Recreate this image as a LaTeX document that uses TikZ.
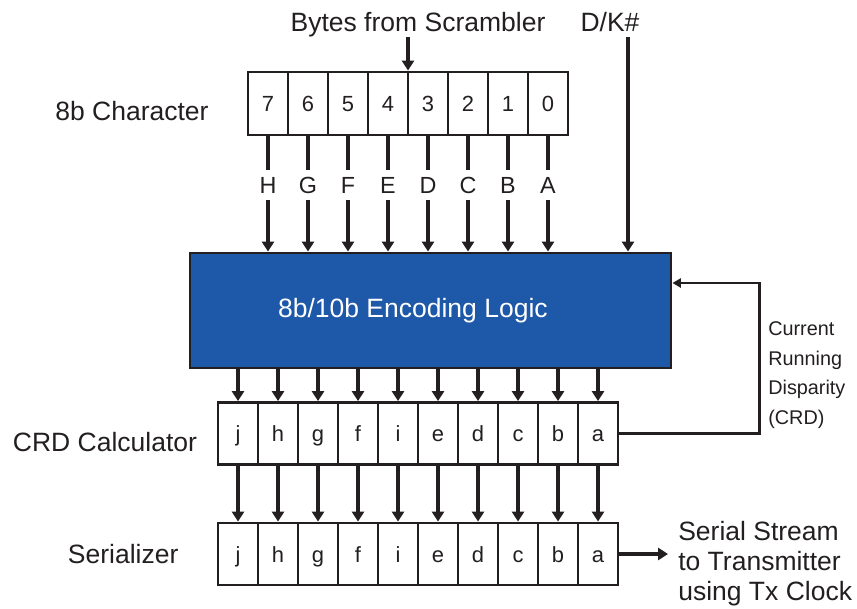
\documentclass[tikz,border=0pt]{standalone}
\usepackage{fontspec}
\setmainfont{Liberation Sans}
\usepackage{tikz}
\usetikzlibrary{positioning,arrows.meta,calc}
\definecolor{ink}{RGB}{35,31,32}
\definecolor{encblue}{RGB}{30,88,168}
\tikzset{cell/.style={draw=ink,line width=2.1pt,minimum width=1cm,minimum height=1.55cm,inner sep=0pt,text=ink,text height=12pt,text depth=0pt,font=\fontsize{15.6}{18}\selectfont}}
\tikzset{bus/.style={ink,line width=2.8pt,-{Triangle[length=7pt,width=8.5pt]}}}
\tikzset{lbl/.style={text=ink,font=\fontsize{18.85}{21.3}\selectfont}}

\begin{document}
\begin{tikzpicture}[wire/.style={ink,line width=2.8pt},feedback/.style={ink,line width=1.8pt,-{Triangle[length=6pt,width=6.5pt]}}]
        \useasboundingbox (0,0) rectangle (21.425,15.2);
        \foreach \n/\l [count=\i] in {7/H,6/G,5/F,4/E,3/D,2/C,1/B,0/A} {
            \node[cell,minimum height=1.575cm] (b\n) at (5.7+\i,12.6125) {\n};
            \node[lbl,font=\fontsize{16.6}{18}\selectfont,minimum height=0.75cm,inner sep=0pt] (\l) at (5.7+\i,10.575) {\l};
        }
        \node[lbl] (char) at (3.3,12.425) {8b Character};
        \node[lbl,anchor=base,inner sep=0pt] (scr) at (10.45,14.41) {Bytes from Scrambler};
        \node[lbl,anchor=base] (dk) at (15.25,14.41) {D/K\#};
        \coordinate (load) at ($(b4.north)!0.5!(b3.north)$);
        \draw[bus] (load |- scr.south) -- (load);

        \node[draw=ink,line width=2.1pt,fill=encblue,minimum width=12.025cm,minimum height=2.875cm] (enc) at (10.7625,7.4375) {};
        \node[lbl,text=white,xshift=-0.44cm] (enctxt) at (enc.center) {8b/10b Encoding Logic};
        \foreach \l/\n in {H/7,G/6,F/5,E/4,D/3,C/2,B/1,A/0} {
            \draw[wire] (b\n) -- (\l);
            \draw[bus] (\l) -- (\l |- enc.north);
        }
        \draw[bus] ([xshift=0.45cm]dk.south) -- ([xshift=0.45cm]dk.south |- enc.north);

        \foreach \n [count=\i] in {j,h,g,f,i,e,d,c,b,a} {
            \node[cell] (crd\i) at (4.95+\i,4.3625) {\n};
            \node[cell] (ser\i) at (4.95+\i,1.35) {\n};
            \draw[bus] (crd\i |- enc.south) -- (crd\i);
            \draw[bus] (crd\i) -- (ser\i);
        }
        \node[lbl] (calc) at (2.625,4.15) {CRD Calculator};
        \node[lbl] (serl) at (3.08,1.35) {Serializer};

        \draw[feedback] (crd10.east) -- ++(3.5,0) |- ([yshift=0.6875cm]enc.east);
        \node[lbl,font=\fontsize{14.1}{21}\selectfont,align=left,anchor=west,inner sep=0pt] (crdtxt) at (19.2,5.825) {Current\\Running\\Disparity\\(CRD)};

        \node[lbl,align=left,anchor=west,inner xsep=0.25cm,inner ysep=0pt] (out) at (16.7,1.1) {Serial Stream\\to Transmitter\\using Tx Clock};
        \draw[bus] (ser10.east) -- (ser10.east -| out.west);
    \end{tikzpicture}
\end{document}
